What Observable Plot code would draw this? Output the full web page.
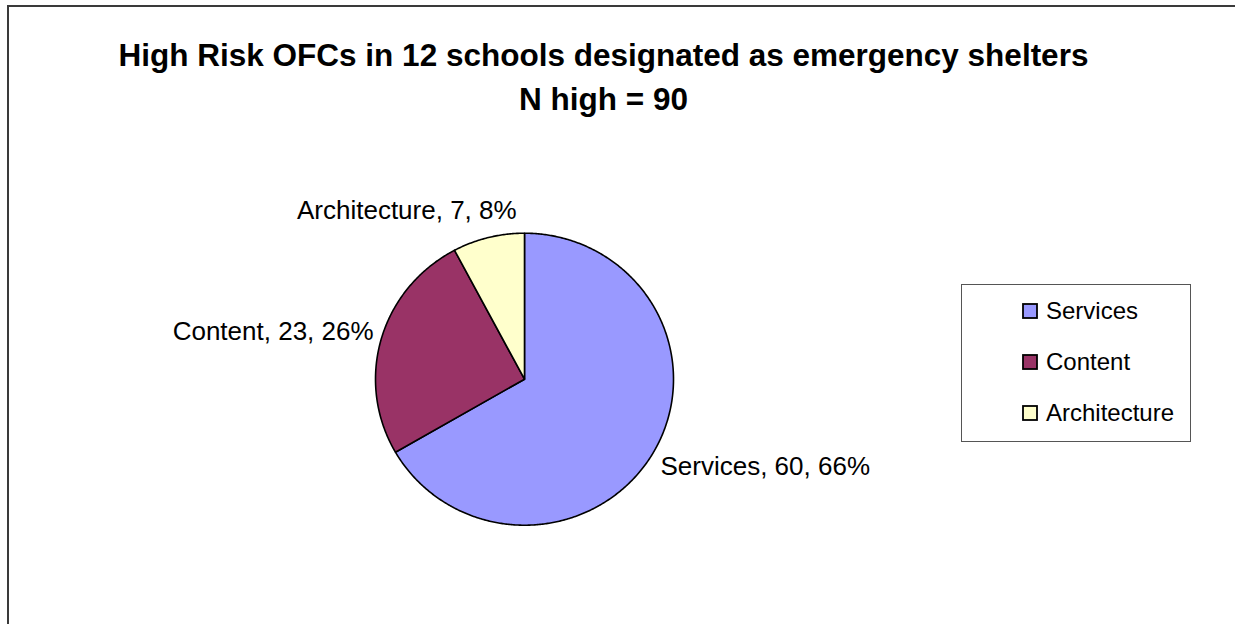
<!DOCTYPE html>
<html>
<head>
<meta charset="utf-8">
<script src="https://cdn.jsdelivr.net/npm/d3@7"></script>
<script src="https://cdn.jsdelivr.net/npm/@observablehq/plot@0.6"></script>
<style>
html, body { margin: 0; padding: 0; background: #fff; overflow: hidden; }
#wrap { position: relative; width: 1235px; height: 624px; overflow: hidden; font-family: "Liberation Sans", Arial, sans-serif; }
#chart { position: absolute; left: 0; top: 0; }
.edge { position: absolute; background: #3a3a3a; }
#edgeLeft { left: 7px; top: 5px; width: 2px; height: 619px; }
#edgeTop { left: 7px; top: 5px; width: 1228px; height: 2px; }
#legend { position: absolute; left: 961px; top: 284px; width: 230px; height: 158px; border: 1.5px solid #555; box-sizing: border-box; background: #fff; }
#legend > div { margin: 0 !important; padding: 0 0 0 61px !important; font: 24px "Liberation Sans", Arial, sans-serif !important; color: #000; columns: auto !important; }
#legend > div > div { display: flex !important; align-items: center !important; height: 51px; padding: 0 !important; margin: 0 !important; }
#legend > div > div > svg { margin-right: 9px !important; overflow: visible; flex-shrink: 0; }
#legend > div > div > svg rect { stroke: #000; stroke-width: 1.8px; }
#legend > div > div > div { overflow: visible !important; }
</style>
</head>
<body>
<div id="wrap">
  <div id="chart"></div>
  <div class="edge" id="edgeLeft"></div>
  <div class="edge" id="edgeTop"></div>
  <div id="legend"></div>
</div>
<script>
// ---- data ----
const categories = ["Services", "Content", "Architecture"];
const counts = [60, 23, 7];
const percents = [66, 26, 8];
const colors = ["#9999FF", "#993366", "#FFFFCC"];
const titleLines = ["High Risk OFCs in 12 schools designated as emergency shelters", "N high = 90"];

// ---- layout ----
const W = 1235, H = 624;
const cx = 524, cy = 378.7, Rx = 149, Ry = 146;
const labelFont = 26, gap = 8, lift = 20;

const rows = categories.map((c, i) => ({category: c, count: counts[i], percent: percents[i]}));
const arcs = d3.pie().sort(null).value(d => d.count)(rows);

const outline = arcs.flatMap(a => {
  const cat = a.data.category;
  const pts = [{category: cat, x: 0, y: 0}];
  const n = Math.max(2, Math.ceil((a.endAngle - a.startAngle) / (Math.PI / 360)));
  for (let k = 0; k <= n; k++) {
    const t = a.startAngle + (a.endAngle - a.startAngle) * k / n;
    pts.push({category: cat, x: Math.sin(t), y: Math.cos(t)});
  }
  pts.push({category: cat, x: 0, y: 0});
  return pts;
});

const ctx = document.createElement("canvas").getContext("2d");
ctx.font = `${labelFont}px "Liberation Sans", Arial, sans-serif`;
const labels = arcs.map(a => {
  const text = `${a.data.category}, ${a.data.count}, ${a.data.percent}%`;
  const mid = (a.startAngle + a.endAngle) / 2;
  const s = Math.sin(mid), c = Math.cos(mid);
  const w = ctx.measureText(text).width;
  const f = Math.max(-1, Math.min(1, 3 * s));
  const px = s * (Rx + gap) + (w / 2) * f;
  const py = c * (Ry + gap + lift);
  return {text, x: px / Rx, y: py / Ry};
});

const chart = Plot.plot({
  width: W,
  height: H,
  marginLeft: 8,
  marginRight: 37,
  marginTop: 0,
  marginBottom: 0,
  style: {fontFamily: '"Liberation Sans", Arial, sans-serif', background: "#fff", overflow: "hidden"},
  x: {domain: [-1, 1], range: [cx - Rx, cx + Rx], axis: null},
  y: {domain: [-1, 1], range: [cy + Ry, cy - Ry], axis: null},
  color: {domain: categories, range: colors},
  marks: [
    Plot.line(outline, {x: "x", y: "y", z: "category", fill: "category", stroke: "#000", strokeWidth: 1.6, strokeLinejoin: "round", curve: "linear"}),
    Plot.text(labels, {x: "x", y: "y", text: "text", fontSize: labelFont, fill: "#000", textAnchor: "middle", lineAnchor: "middle"}),
    Plot.text([titleLines.join("\n")], {text: d => d, frameAnchor: "top", lineAnchor: "top", dy: 35, fontSize: 31.5, fontWeight: "bold", lineHeight: 1.38, fill: "#000"})
  ]
});
document.getElementById("chart").appendChild(chart);

const legend = Plot.legend({color: {domain: categories, range: colors}, columns: 1, swatchSize: 14});
document.getElementById("legend").appendChild(legend);
</script>
</body>
</html>
